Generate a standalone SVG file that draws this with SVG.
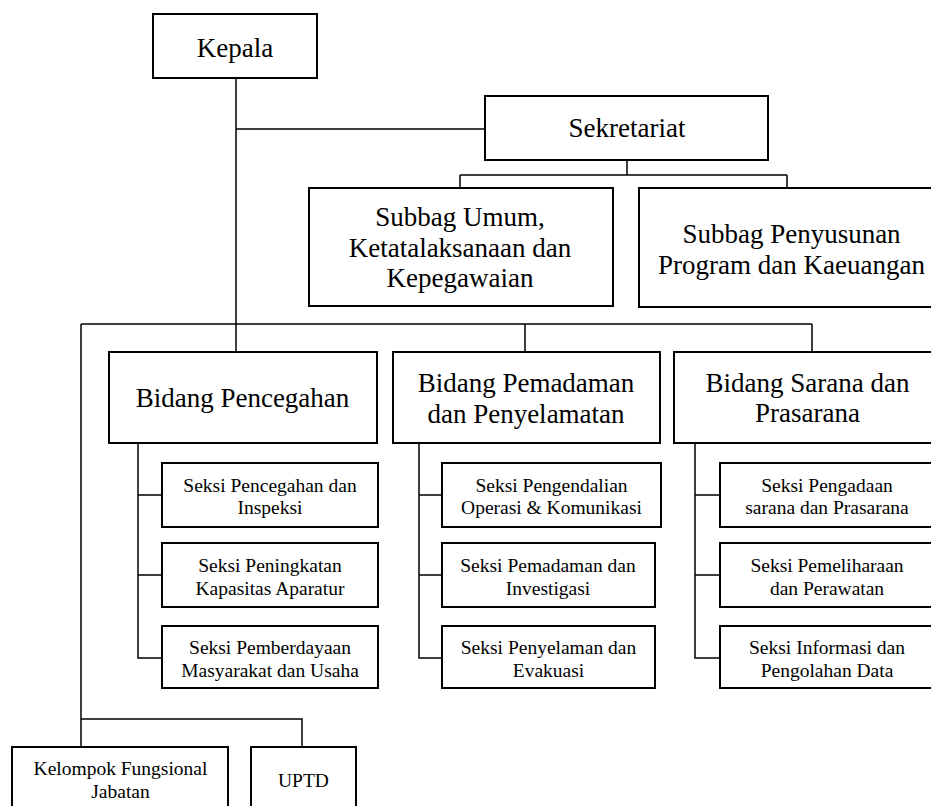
<svg xmlns="http://www.w3.org/2000/svg" width="931" height="806" viewBox="0 0 931 806">
  <style>
    .box { fill: #fff; stroke: #000; stroke-width: 2; }
    .link { fill: none; stroke: #000; stroke-width: 1.5; }
    text { fill: #000; text-anchor: middle; }
    .big { font-size: 27px; }
    .small { font-size: 19.5px; }
  </style>
  <rect x="0" y="0" width="931" height="806" fill="#fff"/>

  <!-- connectors -->
  <g id="connectors" class="link">
    <!-- Kepala trunk -->
    <path d="M236 78 V352"/>
    <path d="M236 129 H485"/>
    <!-- Sekretariat to subbag -->
    <path d="M627 160 V175 M460 175 H787 M460 175 V188 M787 175 V188"/>
    <!-- main bar to bidang -->
    <path d="M81 324 H812 M525 324 V352 M812 324 V352"/>
    <!-- left trunk to fungsional / UPTD -->
    <path d="M81 324 V747 M81 719 H302 V747"/>
    <!-- Bidang Pencegahan seksi -->
    <path d="M138 443 V658 H162 M138 495 H162 M138 575 H162"/>
    <!-- Bidang Pemadaman seksi -->
    <path d="M419 443 V658 H442 M419 495 H442 M419 575 H442"/>
    <!-- Bidang Sarana seksi -->
    <path d="M695 443 V658 H720 M695 495 H720 M695 575 H720"/>
  </g>

  <g font-family="'Liberation Serif', 'Times New Roman', Times, serif">
  <g id="kepala">
    <rect class="box" x="153" y="14" width="164" height="64"/>
    <text class="big" x="235" y="57">Kepala</text>
  </g>

  <g id="sekretariat">
    <rect class="box" x="485" y="96" width="283" height="64"/>
    <text class="big" x="627" y="137">Sekretariat</text>
  </g>

  <g id="subbag-umum">
    <rect class="box" x="309" y="188" width="304" height="118"/>
    <text class="big" x="460" y="226">Subbag Umum,</text>
    <text class="big" x="460" y="256.5">Ketatalaksanaan dan</text>
    <text class="big" x="460" y="287">Kepegawaian</text>
  </g>

  <g id="subbag-penyusunan">
    <rect class="box" x="639" y="188" width="305" height="119"/>
    <text class="big" x="791.5" y="242.5">Subbag Penyusunan</text>
    <text class="big" x="791.5" y="273.5">Program dan Kaeuangan</text>
  </g>

  <g id="bidang-pencegahan">
    <rect class="box" x="109" y="352" width="268" height="91"/>
    <text class="big" x="242.5" y="407">Bidang Pencegahan</text>
  </g>

  <g id="bidang-pemadaman">
    <rect class="box" x="393" y="352" width="267" height="91"/>
    <text class="big" x="526" y="392">Bidang Pemadaman</text>
    <text class="big" x="526" y="423">dan Penyelamatan</text>
  </g>

  <g id="bidang-sarana">
    <rect class="box" x="674" y="352" width="267" height="91"/>
    <text class="big" x="807.5" y="392">Bidang Sarana dan</text>
    <text class="big" x="807.5" y="422">Prasarana</text>
  </g>

  <g id="seksi-pencegahan-inspeksi">
    <rect class="box" x="162" y="463" width="216" height="64"/>
    <text class="small" x="270" y="492">Seksi Pencegahan dan</text>
    <text class="small" x="270" y="514">Inspeksi</text>
  </g>
  <g id="seksi-peningkatan">
    <rect class="box" x="162" y="543" width="216" height="64"/>
    <text class="small" x="270" y="572">Seksi Peningkatan</text>
    <text class="small" x="270" y="595">Kapasitas Aparatur</text>
  </g>
  <g id="seksi-pemberdayaan">
    <rect class="box" x="162" y="626" width="216" height="62"/>
    <text class="small" x="270" y="653.5">Seksi Pemberdayaan</text>
    <text class="small" x="270" y="677">Masyarakat dan Usaha</text>
  </g>

  <g id="seksi-pengendalian">
    <rect class="box" x="442" y="463" width="219" height="64"/>
    <text class="small" x="551.5" y="492">Seksi Pengendalian</text>
    <text class="small" x="551.5" y="514">Operasi &amp; Komunikasi</text>
  </g>
  <g id="seksi-pemadaman">
    <rect class="box" x="442" y="543" width="213" height="64"/>
    <text class="small" x="548" y="572">Seksi Pemadaman dan</text>
    <text class="small" x="548" y="595">Investigasi</text>
  </g>
  <g id="seksi-penyelaman">
    <rect class="box" x="442" y="626" width="213" height="62"/>
    <text class="small" x="548.5" y="653.5">Seksi Penyelaman dan</text>
    <text class="small" x="548.5" y="677">Evakuasi</text>
  </g>

  <g id="seksi-pengadaan">
    <rect class="box" x="720" y="463" width="214" height="64"/>
    <text class="small" x="827" y="492">Seksi Pengadaan</text>
    <text class="small" x="827" y="514">sarana dan Prasarana</text>
  </g>
  <g id="seksi-pemeliharaan">
    <rect class="box" x="720" y="543" width="214" height="64"/>
    <text class="small" x="827" y="572">Seksi Pemeliharaan</text>
    <text class="small" x="827" y="595">dan Perawatan</text>
  </g>
  <g id="seksi-informasi">
    <rect class="box" x="720" y="626" width="214" height="62"/>
    <text class="small" x="827" y="653.5">Seksi Informasi dan</text>
    <text class="small" x="827" y="677">Pengolahan Data</text>
  </g>

  <g id="kelompok-fungsional">
    <rect class="box" x="12" y="747" width="216" height="70"/>
    <text class="small" x="120.5" y="775">Kelompok Fungsional</text>
    <text class="small" x="120.5" y="798">Jabatan</text>
  </g>

  <g id="uptd">
    <rect class="box" x="251" y="747" width="105" height="70"/>
    <text class="small" x="303.5" y="787">UPTD</text>
  </g>
  </g>
</svg>
